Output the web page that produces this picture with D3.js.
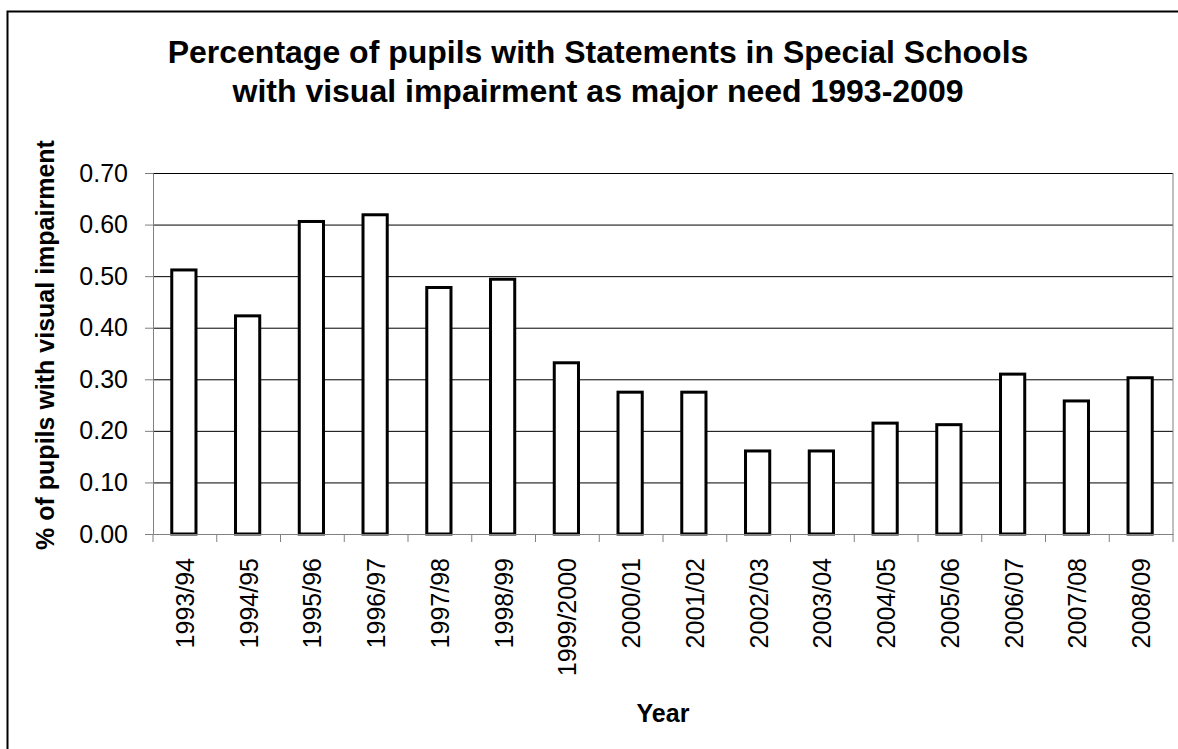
<!DOCTYPE html>
<html>
<head>
<meta charset="utf-8">
<script src="https://cdn.jsdelivr.net/npm/d3@7"></script>
<style>
	html, body { margin:0; background:#fff; overflow:hidden; }
	svg { display:block; }
	text { font-family:"Liberation Sans", Arial, sans-serif; fill:#000; }
</style>
</head>
<body>
<div id="chart"></div>
<script>
const years=["1993/94","1994/95","1995/96","1996/97","1997/98","1998/99","1999/2000","2000/01",
	"2001/02","2002/03","2003/04","2004/05","2005/06","2006/07","2007/08","2008/09"];
const values=[0.512,0.423,0.606,0.619,0.478,0.494,0.332,0.275,0.275,0.161,0.161,0.215,0.212,0.310,0.258,0.303];
const yTicks=[0,0.1,0.2,0.3,0.4,0.5,0.6,0.7];
const titleLines=["Percentage of pupils with Statements in Special Schools","with visual impairment as major need 1993-2009"];

let width=1178,
	height=749,
	plotL=153, plotR=1173, plotT=173, plotB=534;

let svg=d3.select("#chart").append("svg")
		.attr("width",width)
		.attr("height",height);

svg.append("rect")
		.attr("width",width)
		.attr("height",height)
		.attr("fill","#fff");

// outer chart frame, only top and left edges are inside the picture
svg.append("path")
		.attr("d","M"+width+",11.5H7.5V"+height)
		.attr("fill","none")
		.attr("stroke","#000")
		.attr("stroke-width",2);

let x=d3.scaleBand().domain(years).range([plotL,plotR]).padding(0);
let y=d3.scaleLinear().domain([0,0.7]).range([plotB,plotT]);

// gridlines
svg.append("g")
		.attr("transform","translate("+plotL+",0)")
		.call(d3.axisLeft(y).tickValues(yTicks.slice(1)).tickSize(-(plotR-plotL)).tickFormat(""))
		.call(g=>g.select(".domain").remove())
		.call(g=>g.selectAll("line").attr("stroke","#000").attr("stroke-width",1));

// right border of plot area
svg.append("line")
		.attr("x1",plotR).attr("x2",plotR)
		.attr("y1",plotT).attr("y2",plotB)
		.attr("stroke","#808080");

// bars
let barW=x.bandwidth()*0.38;
svg.append("g").selectAll("rect")
		.data(values)
		.join("rect")
		.attr("x",(d,i)=>x(years[i])+x.bandwidth()/2-barW/2-1)
		.attr("y",d=>y(d))
		.attr("width",barW)
		.attr("height",d=>plotB-y(d))
		.attr("fill","#fff")
		.attr("stroke","#000")
		.attr("stroke-width",3);

// y axis
let yAxis=svg.append("g")
		.attr("transform","translate("+plotL+",0)")
		.call(d3.axisLeft(y).tickValues(yTicks).tickSize(8).tickPadding(17).tickFormat(d3.format(".2f")));
yAxis.select(".domain").attr("stroke","#808080");
yAxis.selectAll("line").attr("stroke","#808080");
yAxis.selectAll("text").attr("font-size","25px").attr("fill","#000");

// x axis
let xAxis=svg.append("g")
		.attr("transform","translate(0,"+plotB+")")
		.call(d3.axisBottom(x).tickSize(0).tickFormat(""));
xAxis.select(".domain").attr("stroke","#808080");

svg.append("g").selectAll("line")
		.data(years.concat([null]))
		.join("line")
		.attr("x1",(d,i)=>plotL+i*x.step())
		.attr("x2",(d,i)=>plotL+i*x.step())
		.attr("y1",plotB)
		.attr("y2",plotB+8)
		.attr("stroke","#808080");

svg.append("g").selectAll("text")
		.data(years)
		.join("text")
		.attr("transform",d=>"translate("+(x(d)+x.bandwidth()/2)+","+(plotB+24)+") rotate(-90)")
		.attr("text-anchor","end")
		.attr("dy","0.36em")
		.attr("font-size","25px")
		.text(d=>d);

// titles
svg.append("text")
		.attr("x",598)
		.attr("text-anchor","middle")
		.attr("font-size","32px")
		.attr("font-weight","bold")
		.selectAll("tspan")
		.data(titleLines)
		.join("tspan")
		.attr("x",598)
		.attr("y",(d,i)=>63+i*39)
		.text(d=>d);

svg.append("text")
		.attr("transform","translate(54,345) rotate(-90)")
		.attr("text-anchor","middle")
		.attr("font-size","25px")
		.attr("font-weight","bold")
		.text("% of pupils with visual impairment");

svg.append("text")
		.attr("x",663)
		.attr("y",722)
		.attr("text-anchor","middle")
		.attr("font-size","25px")
		.attr("font-weight","bold")
		.text("Year");
</script>
</body>
</html>
